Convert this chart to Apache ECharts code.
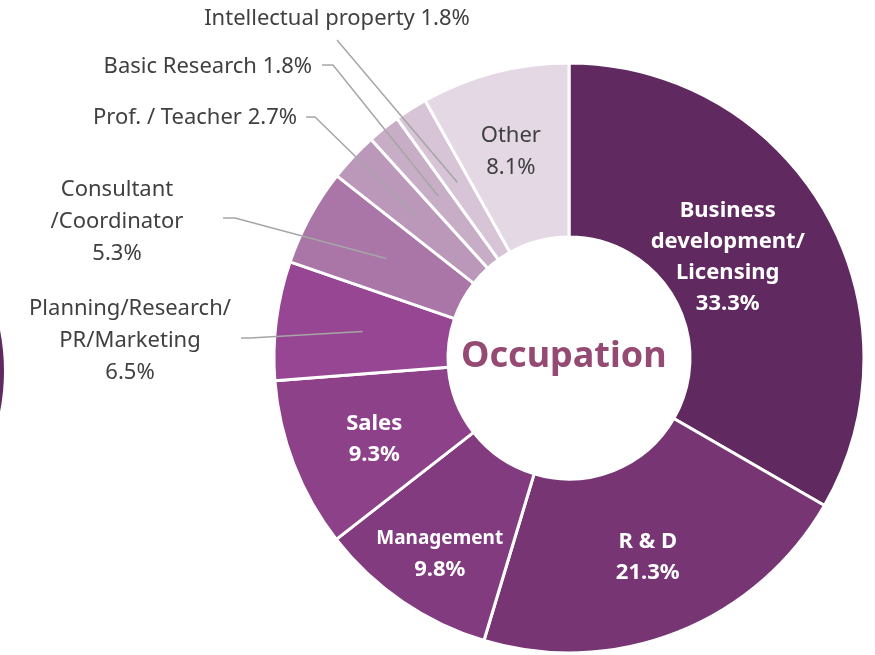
<!DOCTYPE html>
<html>
<head>
<meta charset="utf-8">
<style>
  html, body { margin: 0; padding: 0; background: #fff; }
  #chart { width: 875px; height: 655px; }
</style>
<script src="https://cdn.jsdelivr.net/npm/echarts@6/dist/echarts.min.js"></script>
</head>
<body>
<div id="chart"></div>
<script>
const categories = [
  'Business\ndevelopment/\nLicensing',
  'R & D',
  'Management',
  'Sales',
  'Planning/Research/\nPR/Marketing',
  'Consultant\n/Coordinator',
  'Prof. / Teacher',
  'Basic Research',
  'Intellectual property',
  'Other'
]
const values = [33.3, 21.3, 9.8, 9.3, 6.5, 5.3, 2.7, 1.8, 1.8, 8.1]
const colors = ['#602a60', '#773574', '#823b7f', '#8c4189', '#974694', '#a976a7', '#bb98ba', '#c8adc7', '#d7c4d6', '#e3d8e3']

const font = "'Noto Sans', sans-serif"
const cx = 569
const cy = 358
const rIn = 121
const rOut = 295

// outside labels: text anchor + where the leader line meets the text
const outside = {
  4: { x: 130, y: 341, align: 'center', end: [241, 338], bend: [250, 338] },
  5: { x: 117, y: 222, align: 'center', end: [223, 218], bend: [235, 218] },
  6: { x: 297, y: 118, align: 'right', end: [306, 117], bend: [315, 117] },
  7: { x: 312, y: 67, align: 'right', end: [322, 65], bend: [333, 65] },
  8: { x: 337, y: 19, align: 'center', end: [337, 40], bend: [337, 40] }
}
// inside label nudges
const insideOffset = {
  0: [-24, 5],
  1: [1, 3],
  2: [-10, 22],
  3: [2, 5],
  9: [-5, -2]
}

const chart = echarts.init(document.getElementById('chart'))

// ring with the labels that sit on the slices
const ringData = categories.map((name, i) => {
  const item = { name, value: values[i], itemStyle: { color: colors[i] } }
  if (outside[i]) {
    item.label = { show: false }
  } else if (i === 9) {
    item.label = {
      offset: insideOffset[i],
      formatter: name + '\n' + values[i] + '%',
      color: '#404040',
      fontSize: 22,
      lineHeight: 32,
      fontFamily: font
    }
  } else {
    item.label = {
      offset: insideOffset[i],
      formatter: i === 2
        ? '{s|' + name + '}\n{b|' + values[i] + '%}'
        : name + '\n' + values[i] + '%',
      color: '#fff',
      fontWeight: 'bold',
      fontSize: 22,
      lineHeight: 31,
      fontFamily: font,
      rich: {
        s: { color: '#fff', fontWeight: 'bold', fontSize: 19, lineHeight: 31, fontFamily: font },
        b: { color: '#fff', fontWeight: 'bold', fontSize: 22, lineHeight: 31, fontFamily: font }
      }
    }
  }
  return item
})

// invisible copy on top, only for the small slices' labels and leader lines
const calloutData = categories.map((name, i) => {
  const item = { name, value: values[i] }
  if (outside[i]) {
    const sep = name.includes('\n') ? '\n' : ' '
    item.label = {
      show: true,
      position: 'outside',
      formatter: name + sep + values[i] + '%',
      color: '#404040',
      fontSize: 22,
      lineHeight: 32,
      fontFamily: font
    }
    item.labelLine = { show: true }
  } else {
    item.label = { show: false }
    item.labelLine = { show: false }
  }
  return item
})

const rMid = (rIn + rOut) / 2

const option = {
  animation: false,
  graphic: [
    {
      type: 'circle',
      shape: { cx: -208, cy: 371, r: 212 },
      style: { fill: '#602a60' }
    },
    {
      type: 'text',
      left: 461,
      top: 339,
      z: 10,
      style: {
        text: 'Occupation',
        fill: '#944a72',
        font: "bold 36px 'Noto Sans', sans-serif"
      }
    }
  ],
  series: [
    {
      type: 'pie',
      z: 2,
      center: [cx, cy],
      radius: [rIn, rOut],
      startAngle: 90,
      clockwise: true,
      avoidLabelOverlap: false,
      itemStyle: { borderColor: '#fff', borderWidth: 3 },
      label: { position: 'inside' },
      labelLine: { show: false },
      data: ringData
    },
    {
      type: 'pie',
      z: 3,
      silent: true,
      center: [cx, cy],
      radius: [rIn, rOut],
      startAngle: 90,
      clockwise: true,
      avoidLabelOverlap: false,
      itemStyle: { color: 'rgba(0,0,0,0)', borderWidth: 0 },
      labelLine: {
        lineStyle: { color: '#a6a6a6', width: 1.5 }
      },
      labelLayout: (params) => {
        const o = outside[params.dataIndex]
        if (!o || !params.labelLinePoints) return {}
        // leader line starts halfway through the ring, along the slice's mid angle
        const p = params.labelLinePoints[0]
        const d = Math.hypot(p[0] - cx, p[1] - cy)
        const k = rMid / d
        const inner = [cx + (p[0] - cx) * k, cy + (p[1] - cy) * k]
        return {
          x: o.x,
          y: o.y,
          align: o.align,
          verticalAlign: 'middle',
          labelLinePoints: [inner, o.bend, o.end]
        }
      },
      data: calloutData
    }
  ]
}
chart.setOption(option)
</script>
</body>
</html>
